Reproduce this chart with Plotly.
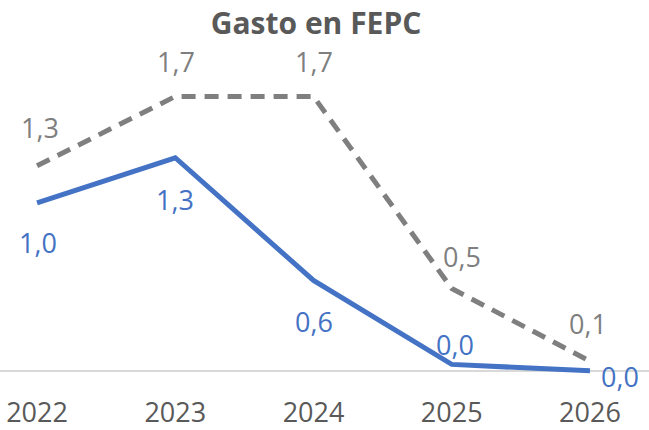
import plotly.graph_objects as go

years = ["2022", "2023", "2024", "2025", "2026"]
gasto_base = [1.04, 1.32, 0.56, 0.04, 0.0]      # blue solid
gasto_alt = [1.27, 1.70, 1.70, 0.51, 0.06]      # gray dashed

BLUE = "#4472C4"
GRAY = "#7F7F7F"
TXT = "#595959"
FONT = "Open Sans"
LBL = 27

# label offsets (styling only)
alt_off = [(3, 38), (1, 35), (0, 35), (10, 32), (-2, 38)]
base_off = [(1, -40), (0, -42), (0, -41), (3, 20), (30, -6)]

fig = go.Figure()
fig.add_trace(go.Scatter(x=years, y=gasto_alt, mode="lines",
                         line=dict(color=GRAY, width=5, dash="14px,9px"),
                         hoverinfo="skip", showlegend=False))
fig.add_trace(go.Scatter(x=years, y=gasto_base, mode="lines",
                         line=dict(color=BLUE, width=5),
                         hoverinfo="skip", showlegend=False))

def fmt(v):
    return f"{v:.1f}".replace(".", ",")

for i, v in enumerate(gasto_alt):
    dx, dy = alt_off[i]
    fig.add_annotation(x=i, y=v, xref="x", yref="y", text=fmt(v), showarrow=False,
                       xshift=dx, yshift=dy,
                       font=dict(family=FONT, size=LBL, color=GRAY))
for i, v in enumerate(gasto_base):
    dx, dy = base_off[i]
    fig.add_annotation(x=i, y=v, xref="x", yref="y", text=fmt(v), showarrow=False,
                       xshift=dx, yshift=dy,
                       font=dict(family=FONT, size=LBL, color=BLUE))

fig.update_layout(
    width=649, height=430,
    margin=dict(l=0, r=0, t=42, b=40),
    paper_bgcolor="white", plot_bgcolor="white",
    separators=",.",
    title=dict(text="<b>Gasto en FEPC</b>", x=0.487, xanchor="center",
               y=1 - 23 / 430, yanchor="middle", yref="container",
               font=dict(family=FONT, size=30, color=TXT)),
    xaxis=dict(type="category", range=[-0.268, 4.427], showgrid=False,
               showline=False, zeroline=False, ticks="outside", ticklen=2,
               tickcolor="rgba(0,0,0,0)",
               tickfont=dict(family=FONT, size=LBL, color=TXT)),
    yaxis=dict(range=[-0.1, 2.037], showgrid=False, showticklabels=False,
               zeroline=True, zerolinecolor="#D9D9D9", zerolinewidth=1.5,
               showline=False),
)

fig.write_html("out.html", config={"displayModeBar": False},
               post_script="document.body.style.margin='0';document.body.style.overflow='hidden';")
